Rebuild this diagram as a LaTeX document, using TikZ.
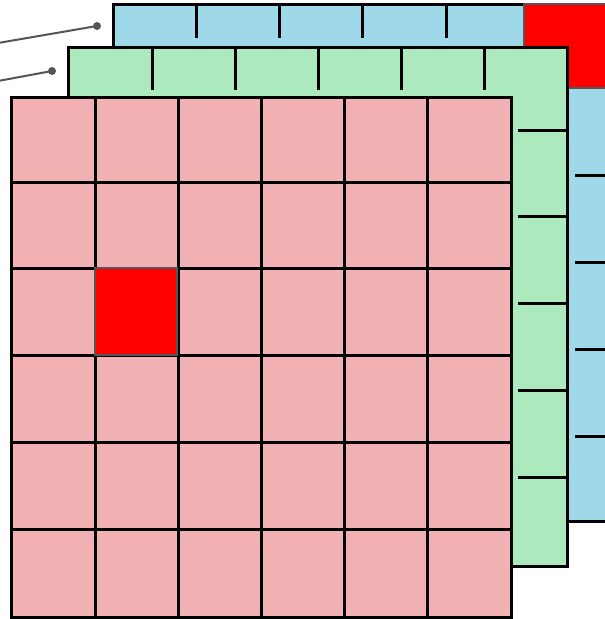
\documentclass[tikz,border=0pt]{standalone}
\definecolor{pinkc}{RGB}{242,178,180}
\definecolor{greenc}{RGB}{172,234,190}
\definecolor{bluec}{RGB}{158,216,233}
\definecolor{redc}{RGB}{255,0,0}
\definecolor{grayc}{RGB}{85,85,85}
\tikzset{
  layer/.style={draw=black,line width=3pt},
  gridline/.style={draw=black,line width=3pt},
  hot/.style={fill=redc,draw=grayc,line width=2pt},
  leader/.style={draw=grayc,line width=2pt},
  dot/.style={circle,fill=grayc,inner sep=0pt,minimum size=8pt}
}
\begin{document}
\begin{tikzpicture}[x=1pt,y=-1pt]
\useasboundingbox (0,0) rectangle (605,619);
\clip (0,0) rectangle (605,619);
% blue layer
\fill[bluec] (113,4) rectangle (615,521);
\draw[layer] (113,4) rectangle (615,521);
\foreach \x in {196,279,362,446} \draw[gridline] (\x,4) -- (\x,38);
\foreach \y in {175,262,349,436} \draw[gridline] (575,\y) -- (615,\y);
\draw[hot] (524,4) rectangle (612,88);
% green layer
\fill[greenc] (68,47) rectangle (567,566);
\draw[layer] (68,47) rectangle (567,566);
\foreach \x in {152,235,318,401,484} \draw[gridline] (\x,47) -- (\x,90);
\foreach \y in {130,216,303,390,477} \draw[gridline] (518,\y) -- (567,\y);
% pink layer
\fill[pinkc] (11,97) rectangle (511,617);
\foreach \x in {95,178,261,344,427} \draw[gridline] (\x,97) -- (\x,617);
\foreach \y in {182,268,355,442,529} \draw[gridline] (11,\y) -- (511,\y);
\draw[layer] (11,97) rectangle (511,617);
\draw[hot] (95,268) rectangle (177,355);
% leaders
\node[dot] (d1) at (97,26) {};
\node[dot] (d2) at (52,71) {};
\coordinate (e1) at (-2,43);
\coordinate (e2) at (-2,81);
\draw[leader] (e1) -- (d1.center);
\draw[leader] (e2) -- (d2.center);
\end{tikzpicture}
\end{document}
